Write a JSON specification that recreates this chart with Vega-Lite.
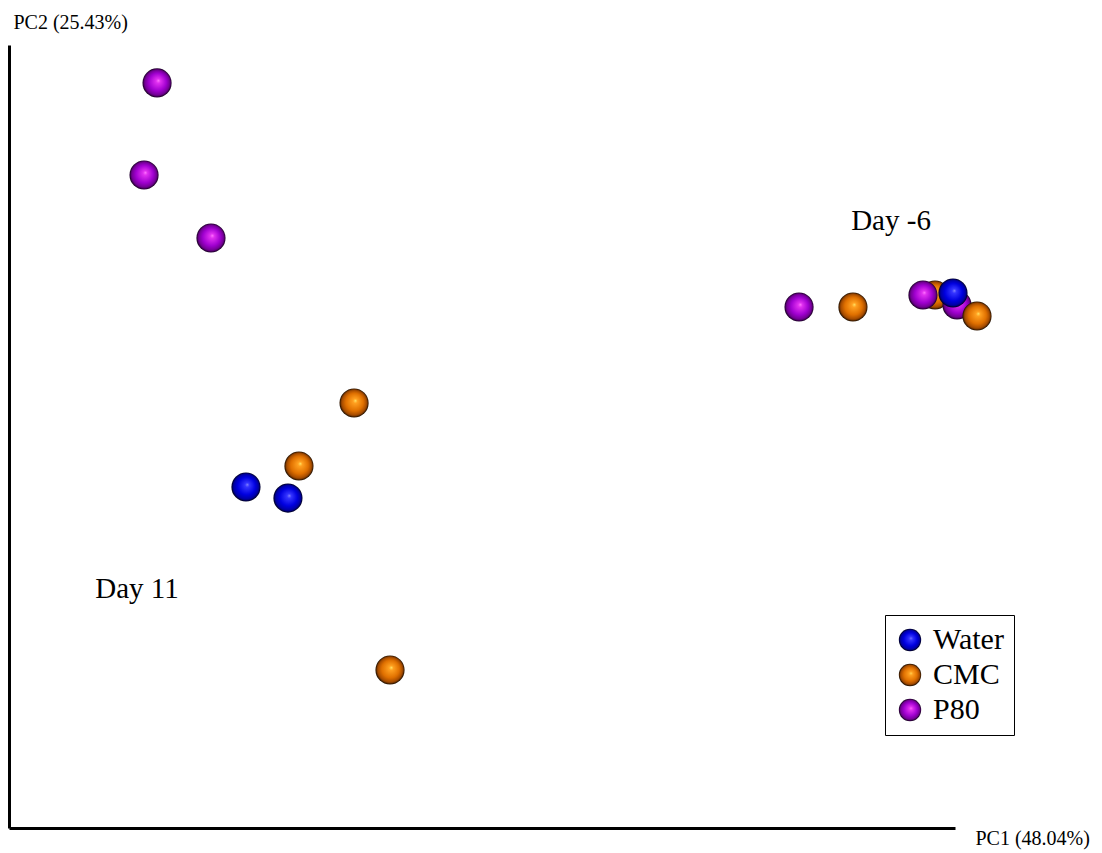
{
  "$schema": "https://vega.github.io/schema/vega-lite/v6.json",
  "width": 946,
  "height": 783,
  "autosize": {"type": "none"},
  "padding": {"left": 9, "top": 45, "right": 147, "bottom": 25},
  "background": "white",
  "config": {
    "view": {"stroke": null},
    "font": "Liberation Serif",
    "legend": {"labelFont": "Liberation Serif"}
  },
  "datasets": {
    "samples": [
      {"group": "P80", "PC1": -0.2748, "PC2": 0.3185},
      {"group": "P80", "PC1": -0.2858, "PC2": 0.2421},
      {"group": "P80", "PC1": -0.2292, "PC2": 0.1898},
      {"group": "CMC", "PC1": -0.1082, "PC2": 0.0528},
      {"group": "CMC", "PC1": -0.1548, "PC2": 0.0005},
      {"group": "CMC", "PC1": -0.0778, "PC2": -0.1688},
      {"group": "Water", "PC1": -0.1996, "PC2": -0.0169},
      {"group": "Water", "PC1": -0.1641, "PC2": -0.0261},
      {"group": "P80", "PC1": 0.2681, "PC2": 0.1325},
      {"group": "CMC", "PC1": 0.3137, "PC2": 0.1325},
      {"group": "CMC", "PC1": 0.3831, "PC2": 0.1425},
      {"group": "P80", "PC1": 0.3729, "PC2": 0.1425},
      {"group": "P80", "PC1": 0.4017, "PC2": 0.1342},
      {"group": "CMC", "PC1": 0.4186, "PC2": 0.1250},
      {"group": "Water", "PC1": 0.3983, "PC2": 0.1441}
    ],
    "labels": [
      {"label": "Day -6", "PC1": 0.3459, "PC2": 0.1964},
      {"label": "Day 11", "PC1": -0.2918, "PC2": -0.1091}
    ]
  },
  "encoding": {
    "x": {
      "field": "PC1", "type": "quantitative",
      "scale": {"domain": [-0.4, 0.4], "nice": false, "zero": false},
      "axis": {
        "title": "PC1 (48.04%)", "domain": true, "domainColor": "black", "domainWidth": 3,
        "ticks": false, "labels": false, "grid": false,
        "titleX": 966, "titleY": 10, "titleAlign": "left", "titleBaseline": "middle", "titleAngle": 0,
        "titleFont": "Liberation Serif", "titleFontSize": 20, "titleFontWeight": "normal", "titleColor": "black"
      }
    },
    "y": {
      "field": "PC2", "type": "quantitative",
      "scale": {"domain": [-0.3, 0.35], "nice": false, "zero": false},
      "axis": {
        "title": "PC2 (25.43%)", "domain": true, "domainColor": "black", "domainWidth": 3,
        "ticks": false, "labels": false, "grid": false,
        "titleX": 4, "titleY": -23, "titleAlign": "left", "titleBaseline": "middle", "titleAngle": 0,
        "titleFont": "Liberation Serif", "titleFontSize": 20, "titleFontWeight": "normal", "titleColor": "black"
      }
    }
  },
  "layer": [
    {
      "data": {"name": "samples"},
      "mark": {"type": "circle", "size": 850, "opacity": 1, "strokeWidth": 0},
      "encoding": {
        "color": {
          "field": "group", "type": "nominal",
          "scale": {
            "domain": ["Water", "CMC", "P80"],
            "range": [
              {"expr": "{gradient: 'radial', x1: 0.55, y1: 0.42, r1: 0, x2: 0.5, y2: 0.5, r2: 0.5, stops: [{offset: 0, color: '#8080ff'}, {offset: 0.15, color: '#3535ff'}, {offset: 0.6, color: '#0000e0'}, {offset: 0.87, color: '#0000a0'}, {offset: 1, color: '#000010'}]}"},
              {"expr": "{gradient: 'radial', x1: 0.55, y1: 0.42, r1: 0, x2: 0.5, y2: 0.5, r2: 0.5, stops: [{offset: 0, color: '#ffe060'}, {offset: 0.15, color: '#ffa020'}, {offset: 0.6, color: '#e07000'}, {offset: 0.87, color: '#a04800'}, {offset: 1, color: '#100800'}]}"},
              {"expr": "{gradient: 'radial', x1: 0.55, y1: 0.42, r1: 0, x2: 0.5, y2: 0.5, r2: 0.5, stops: [{offset: 0, color: '#ff70ff'}, {offset: 0.15, color: '#e030f0'}, {offset: 0.6, color: '#a000d0'}, {offset: 0.87, color: '#700090'}, {offset: 1, color: '#100018'}]}"}
            ]
          },
          "legend": {
            "title": null, "orient": "none", "legendX": 876, "legendY": 570,
            "strokeColor": "black", "fillColor": "white", "padding": 10,
            "symbolType": "circle", "symbolSize": 500, "symbolOpacity": 1, "symbolStrokeWidth": 0,
            "labelFont": "Liberation Serif", "labelFontSize": 30, "labelColor": "black",
            "labelOffset": 8, "rowPadding": 5,
            "labelExpr": "datum.label + '\u2002'"
          }
        }
      }
    },
    {
      "data": {"name": "labels"},
      "mark": {"type": "text", "font": "Liberation Serif", "fontSize": 29, "baseline": "alphabetic", "align": "center", "color": "black"},
      "encoding": {"text": {"field": "label"}}
    }
  ]
}
